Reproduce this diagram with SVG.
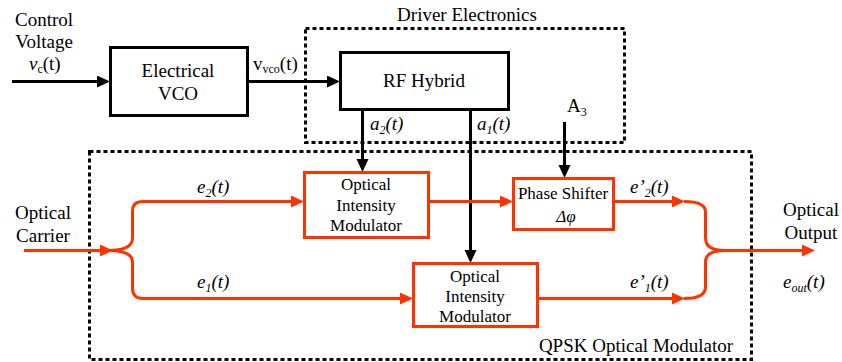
<svg xmlns="http://www.w3.org/2000/svg" width="842" height="362" viewBox="0 0 842 362">
<style>
text{font-family:"Liberation Serif","Times New Roman",serif;font-size:19px;fill:#000}
.s17{font-size:17px}
.it{font-style:italic}
.mid{text-anchor:middle}
.bbox{fill:#fff;stroke:#000;stroke-width:3}
.obox{fill:#fff;stroke:#ff3300;stroke-width:3}
.dot{fill:none;stroke:#000;stroke-width:3;stroke-dasharray:4 3}
.bl{fill:none;stroke:#000;stroke-width:3}
.ol{fill:none;stroke:#ff3300;stroke-width:3}
</style>
<defs>
<marker id="ab" markerUnits="userSpaceOnUse" markerWidth="14" markerHeight="13" refX="8" refY="6" orient="auto" viewBox="0 0 14 13">
<path d="M0,0 L13,6 L0,12 z" fill="#000"/>
</marker>
<marker id="ao" markerUnits="userSpaceOnUse" markerWidth="14" markerHeight="13" refX="8" refY="6" orient="auto" viewBox="0 0 14 13">
<path d="M0,0 L13,6 L0,12 z" fill="#ff3300"/>
</marker>
</defs>

<g id="driver-electronics">
<rect class="dot" x="305.5" y="28.5" width="319" height="114"/>
<text class="mid" x="467" y="21">Driver Electronics</text>
</g>
<g id="qpsk-modulator">
<rect class="dot" x="89.5" y="151.5" width="662" height="208"/>
<text class="mid" x="636" y="352">QPSK Optical Modulator</text>
</g>

<g id="connectors">
<path class="bl" d="M12,81.5 H105" marker-end="url(#ab)"/>
<path class="bl" d="M247,81.5 H335" marker-end="url(#ab)"/>
<path class="bl" d="M362.5,109 V167" marker-end="url(#ab)"/>
<path class="bl" d="M470.5,109 V258" marker-end="url(#ab)"/>
<path class="bl" d="M564.5,122 V173" marker-end="url(#ab)"/>
<path class="ol" d="M24,250.5 H108" marker-end="url(#ao)"/>
<path class="ol" d="M108,250.5 Q132.5,250.5 132.5,238 V211 Q132.5,201.5 143,201.5 H299" marker-end="url(#ao)"/>
<path class="ol" d="M108,250.5 Q132.5,250.5 132.5,262 V288 Q132.5,298.5 143,298.5 H408" marker-end="url(#ao)"/>
<path class="ol" d="M428,201.5 H508" marker-end="url(#ao)"/>
<path class="ol" d="M613,201.5 H680" marker-end="url(#ao)"/>
<path class="ol" d="M537,298.5 H680" marker-end="url(#ao)"/>
<path class="ol" d="M684,201.5 Q705.5,201.5 705.5,212 V238 Q705.5,250.5 725,250.5"/>
<path class="ol" d="M684,298.5 Q705.5,298.5 705.5,287 V262 Q705.5,250.5 725,250.5"/>
<path class="ol" d="M720,250.5 H810" marker-end="url(#ao)"/>
</g>

<g id="labels">
<text class="mid" x="44" y="26">Control</text>
<text class="mid" x="44" y="48">Voltage</text>
<text x="29" y="70"><tspan class="it">v</tspan><tspan font-size="12" dy="3">c</tspan><tspan dy="-3">(t)</tspan></text>
<text x="253" y="70">v<tspan font-size="12" dy="3">vco</tspan><tspan dy="-3">(t)</tspan></text>
<text x="370" y="130" class="it">a<tspan font-size="12" dy="4">2</tspan><tspan dy="-4">(t)</tspan></text>
<text x="477" y="130" class="it">a<tspan font-size="12" dy="4">1</tspan><tspan dy="-4">(t)</tspan></text>
<text x="567" y="112">A<tspan font-size="12" dy="4">3</tspan></text>
<text class="mid" x="43" y="219">Optical</text>
<text class="mid" x="43" y="242">Carrier</text>
<text x="197" y="193" class="it">e<tspan font-size="12" dy="4">2</tspan><tspan dy="-4">(t)</tspan></text>
<text x="197" y="288" class="it">e<tspan font-size="12" dy="4">1</tspan><tspan dy="-4">(t)</tspan></text>
<text x="630" y="193" class="it">e’<tspan font-size="12" dy="4">2</tspan><tspan dy="-4">(t)</tspan></text>
<text x="630" y="288" class="it">e’<tspan font-size="12" dy="4">1</tspan><tspan dy="-4">(t)</tspan></text>
<text class="mid" x="811" y="216">Optical</text>
<text class="mid" x="811" y="239">Output</text>
<text x="783" y="288" class="it">e<tspan font-size="12" dy="4">out</tspan><tspan dy="-4">(t)</tspan></text>
</g>

<g id="vco">
<rect class="bbox" x="110.5" y="47.5" width="137" height="68"/>
<text class="mid" x="178" y="77">Electrical</text>
<text class="mid" x="178" y="100">VCO</text>
</g>
<g id="rf-hybrid">
<rect class="bbox" x="340.5" y="52.5" width="168" height="57"/>
<text class="mid" x="424" y="87">RF Hybrid</text>
</g>
<g id="oim-2">
<rect class="obox" x="304.5" y="172.5" width="124" height="65"/>
<text class="mid s17" x="366" y="190">Optical</text>
<text class="mid s17" x="366" y="211">Intensity</text>
<text class="mid s17" x="366" y="231">Modulator</text>
</g>
<g id="oim-1">
<rect class="obox" x="413.5" y="263.5" width="124" height="63"/>
<text class="mid s17" x="475" y="282">Optical</text>
<text class="mid s17" x="475" y="302">Intensity</text>
<text class="mid s17" x="475" y="322">Modulator</text>
</g>
<g id="phase-shifter">
<rect class="obox" x="513.5" y="178.5" width="100" height="51"/>
<text class="mid s17" x="563" y="199">Phase Shifter</text>
<text class="mid s17 it" x="566" y="222">Δφ</text>
</g>
</svg>
